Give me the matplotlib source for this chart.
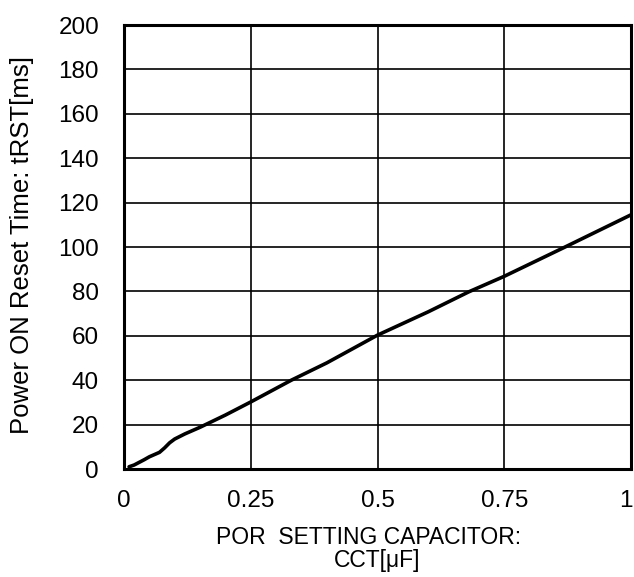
import matplotlib
matplotlib.use('Agg')
import matplotlib.pyplot as plt
from matplotlib.transforms import ScaledTranslation

plt.rcParams['font.family'] = ['Liberation Sans', 'DejaVu Sans']

# Curve
cct = [0.01, 0.02, 0.03, 0.04, 0.05, 0.06, 0.07, 0.08, 0.09, 0.10, 0.12, 0.15,
       0.20, 0.25, 0.33, 0.40, 0.50, 0.60, 0.68, 0.75, 0.87, 1.00]
trst = [1.0, 1.8, 3.0, 4.2, 5.5, 6.5, 7.5, 9.5, 11.8, 13.5, 15.8, 18.8,
        24.3, 30.2, 40.0, 47.8, 60.3, 70.8, 79.8, 86.8, 100.0, 114.5]

x_ticks = [0, 0.25, 0.5, 0.75, 1]
x_labels = ['0', '0.25', '0.5', '0.75', '1']
y_ticks = list(range(0, 201, 20))

W, H = 634, 577
fig = plt.figure(figsize=(W / 100, H / 100), dpi=100)
ax = fig.add_axes([124 / W, 1 - 469 / H, (631 - 124) / W, (469 - 25) / H])

ax.plot(cct, trst, color='black', linewidth=2.6, solid_capstyle='round')

ax.set_xlim(0, 1)
ax.set_ylim(0, 200)
ax.set_xticks(x_ticks)
ax.set_xticklabels(x_labels)
ax.set_yticks(y_ticks)
ax.grid(True, color='black', linewidth=1.2)
ax.tick_params(length=0, labelsize=17.5)
ax.tick_params(axis='y', pad=18)
ax.tick_params(axis='x', pad=15)
for s in ax.spines.values():
    s.set_linewidth(2.2)

# the last x label sits a little inside the picture edge
last = ax.get_xticklabels()[-1]
last.set_transform(last.get_transform() + ScaledTranslation(-5 / 100, 0, fig.dpi_scale_trans))

# axis titles
fig.text(369 / W, 1 - 537 / H, 'POR  SETTING CAPACITOR:', fontsize=16.5,
         ha='center', va='center')
fig.text(377 / W, 1 - 560 / H, 'CCT[μF]', fontsize=16.5,
         ha='center', va='center')
fig.text(22 / W, 1 - 245 / H, 'Power ON Reset Time: tRST[ms]', fontsize=18.5,
         rotation=90, ha='center', va='center')

plt.savefig('out.png', dpi=100)
